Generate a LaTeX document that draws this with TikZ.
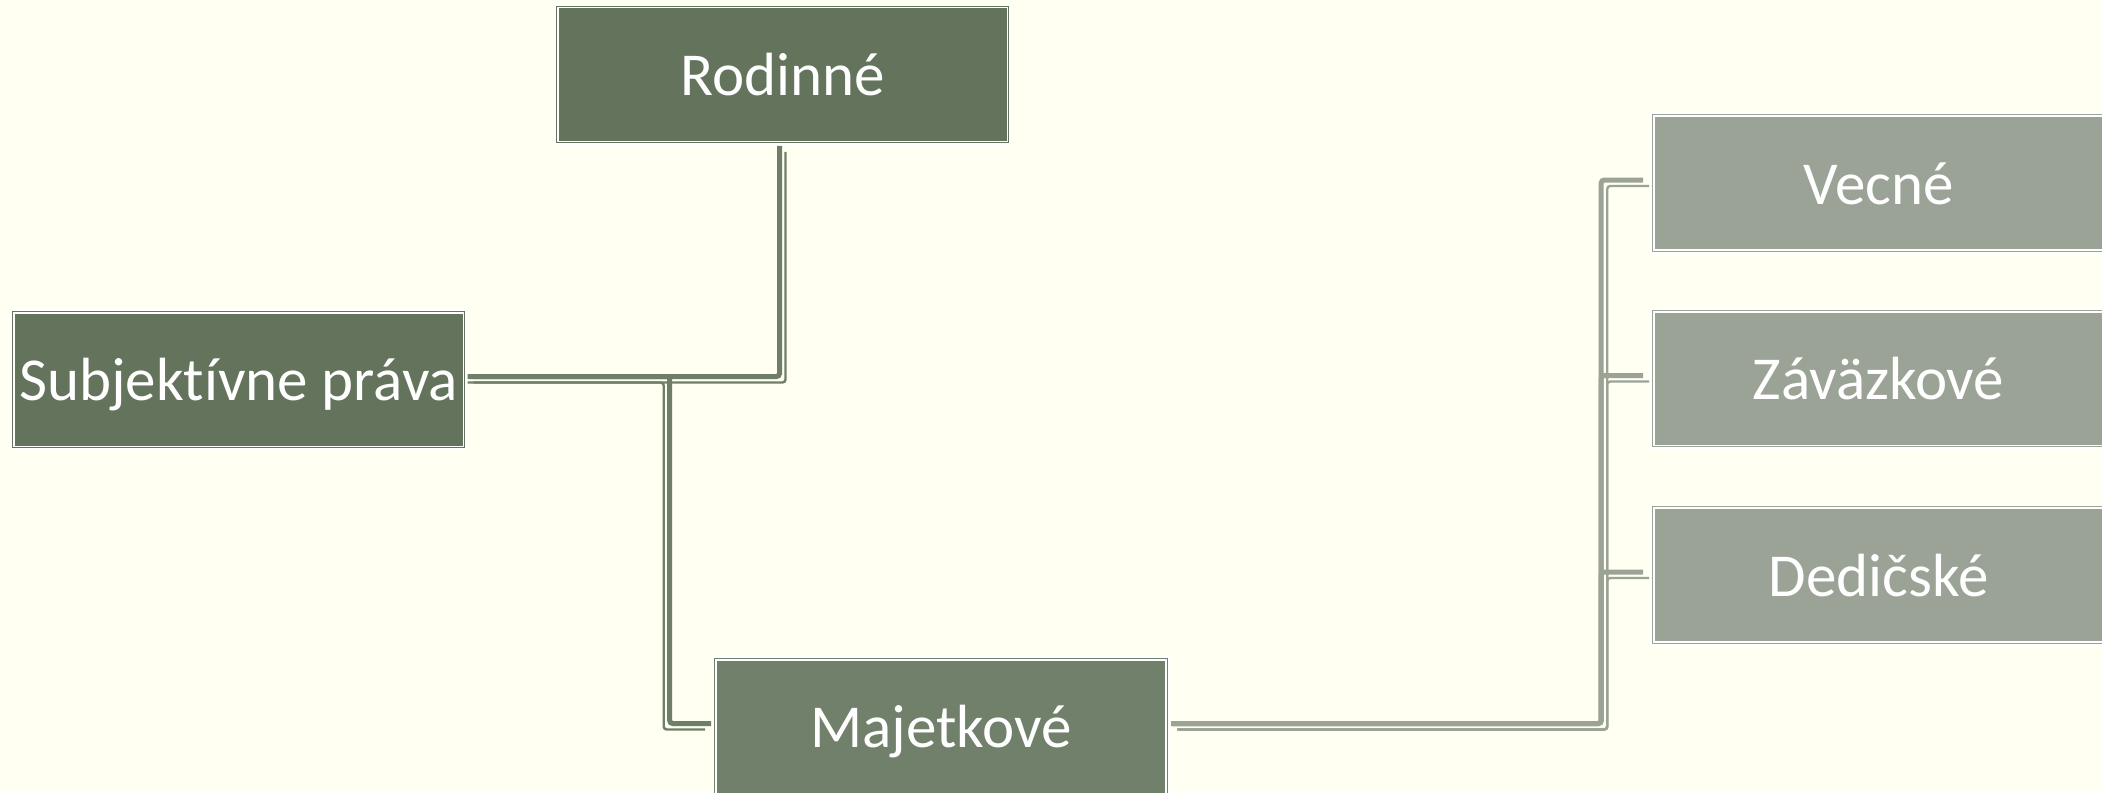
\documentclass[tikz,border=0pt]{standalone}
\usepackage{fontspec}
\setmainfont{Carlito}[Ligatures=NoCommon]
\usetikzlibrary{calc}
\definecolor{bg}{HTML}{FFFFF2}
\definecolor{darkbox}{HTML}{63735C}
\definecolor{midbox}{HTML}{71806A}
\definecolor{lightbox}{HTML}{9BA396}
\definecolor{leftline}{HTML}{6F7E68}
\begin{document}
\begin{tikzpicture}[x=0.5pt,y=-0.5pt,
  hbox/.style={rectangle, minimum width=224.8pt, minimum height=66.8pt, inner sep=0pt,
    fill=#1, draw=#1, line width=0.5pt, double=white, double distance=0.8pt,
    preaction={draw=white, line width=3.7pt},
    text=white, font=\fontsize{30.5}{36}\selectfont, text height=21pt, text depth=0pt},
  thickline/.style={draw=#1, line width=2.5pt, rounded corners=1.5pt},
  thinline/.style={draw=#1, line width=1.2pt, rounded corners=1.5pt}]
\useasboundingbox (0,0) rectangle (2102,792);
\clip (0,0) rectangle (2102,792);
\fill[bg] (0,0) rectangle (2102,792);

\node[hbox=darkbox] (R) at (782.5,74.5) {Rodinné};
\node[hbox=darkbox] (S) at (238.5,379.5) {Subjektívne práva};
\node[hbox=midbox] (M) at (941,726.5) {Majetkové};
\node[hbox=lightbox] (V) at (1878.5,183) {Vecné};
\node[hbox=lightbox] (Z) at (1878.5,378.5) {Záväzkové};
\node[hbox=lightbox] (D) at (1878.5,575) {Dedičské};

% Subjektivne -> Rodinne (right, then up)
\draw[thickline=leftline, transform canvas={xshift=-1.5pt,yshift=1.5pt}]
  ($(S.east)+(6.7,0)$) -| ($(R.south)+(0,7)$);
\draw[thinline=leftline, transform canvas={xshift=1.5pt,yshift=-1.5pt}]
  ($(S.east)+(6.7,0)$) -| ($(R.south)+(0,7)$);

% Subjektivne -> Majetkove (right, down, right)
\draw[thickline=leftline, transform canvas={xshift=1.5pt,yshift=1.5pt}]
  ($(S.east)+(6.7,0)$) -| ($(M.west)+(-49,0)$) -- ($(M.west)+(-7.5,0)$);
\draw[thinline=leftline, transform canvas={xshift=-1.5pt,yshift=-1.5pt}]
  ($(S.east)+(6.7,0)$) -| ($(M.west)+(-49,0)$) -- ($(M.west)+(-7.5,0)$);

% Majetkove -> children (right, up, right)
\foreach \c in {V,Z,D}{
  \draw[thickline=lightbox, transform canvas={xshift=-1.5pt,yshift=1.5pt}]
    ($(M.east)+(8,0)$) -| ($(\c.west)+(-49,0)$) -- ($(\c.west)+(-7,0)$);
  \draw[thinline=lightbox, transform canvas={xshift=1.5pt,yshift=-1.5pt}]
    ($(M.east)+(8,0)$) -| ($(\c.west)+(-49,0)$) -- ($(\c.west)+(-7,0)$);
}
\end{tikzpicture}
\end{document}
